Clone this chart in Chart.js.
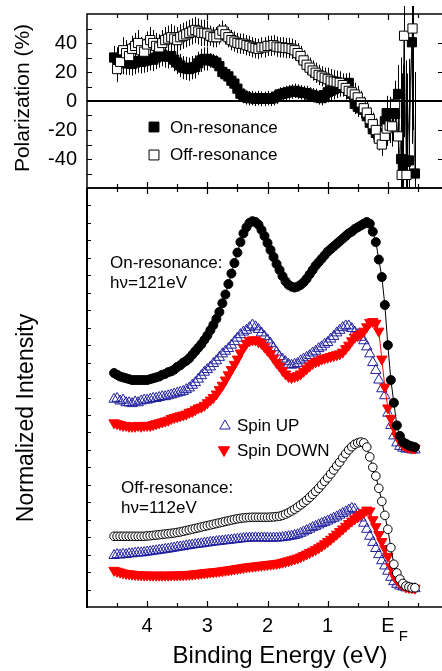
<!DOCTYPE html>
<html><head><meta charset="utf-8">
<script src="https://cdn.jsdelivr.net/npm/chart.js@4.4.1/dist/chart.umd.min.js"></script>
<style>
html,body{margin:0;padding:0;background:#fff;}
#wrap{position:relative;width:442px;height:671px;overflow:hidden;}
canvas{position:absolute;left:0;top:0;}
</style></head><body>
<div id="wrap"><canvas id="topc" width="442" height="671"></canvas><canvas id="botc" width="442" height="671"></canvas></div>
<script>
// ---------------- DATA ----------------
// binding-energy grid (eV) shared by the dense data
const energyGrid = [
 4.55,4.50,4.45,4.40,4.35,4.30,4.25,4.20,4.15,4.10,
 4.05,4.00,3.95,3.90,3.85,3.80,3.75,3.70,3.65,3.60,
 3.55,3.50,3.45,3.40,3.35,3.30,3.25,3.20,3.15,3.10,
 3.05,3.00,2.95,2.90,2.85,2.80,2.75,2.70,2.65,2.60,
 2.55,2.50,2.45,2.40,2.35,2.30,2.25,2.20,2.15,2.10,
 2.05,2.00,1.95,1.90,1.85,1.80,1.75,1.70,1.65,1.60,
 1.55,1.50,1.45,1.40,1.35,1.30,1.25,1.20,1.15,1.10,
 1.05,1.00,0.95,0.90,0.85,0.80,0.75,0.70,0.65,0.60,
 0.55,0.50,0.45,0.40,0.35,0.30,0.25,0.20,0.15,0.10,
 0.05,0.00,-0.05,-0.10,-0.15,-0.20,-0.25,-0.30,-0.35,-0.40,
 -0.45];

// Polarization (%) on the first 91 grid points
const polOnRes = [
 30,29,27,26.5,26,26,25.5,26.5,27.5,27,
 27.5,28,29,28.5,30,31,32,31,30.5,31,
 28.5,26.5,24.5,23,22.5,22,23,23.5,26,28,
 29,29,28,27.5,26.5,24,20,18.5,17,14,
 12,8.5,5,3.5,2.5,2,2,1.5,2,1.5,
 1.5,2,1.5,2,3,4.5,5,5.5,6,6.5,
 7,6.5,6,5.5,5.5,4.5,4,3.5,2.5,2,
 4,6,7,8,9,10,11,12,12.5,5,
 -2,-4,-5,-6,-10.5,-15,-19.5,-22,-25,-22,
 -14];
const polOffRes = [
 null,22,27,35,33,31,36,38,40,35,
 34,39,42,40,38,37,40,42,43,44,
 43,42,44,45,46,47,48,49,48,47,
 47,46.5,45,44,44,46,48.5,46,44,42,
 41,40,39.5,39.5,38.5,38,37,36.5,36,37,
 37,38,38,38.5,37.5,37,37,36.5,36.5,36,
 35,33,31,28,25,23,21,19.5,18,17,
 16,15,14,13.5,13,12.5,11,9,7,6,
 4.5,2.5,-1,-5,-8,-12.5,-16,-20,-26,-30,
 -24];
// scattered points near E_F
const polOnTailE   = [0.02,-0.03,-0.08,-0.12,-0.17,-0.22,-0.25,-0.30,-0.35,-0.40,-0.45];
const polOnTailV   = [-8.4,-9,-8.4,-9,4.9,-40,-45,-42,-41,40.5,-50];
const polOnTailErr = [12,12,12,12,20,70,70,70,70,70,70];
const polOffTailE   = [0.02,-0.03,-0.07,-0.12,-0.17,-0.23,-0.27,-0.31,-0.41];
const polOffTailV   = [-19,-17,-17.5,-2,-24.4,-51,45,-51,50];
const polOffTailErr = [12,12,14,16,20,70,70,70,70];
// error-bar half lengths per energy band [from, to, err]
const polOnErrBands  = [[4.6,2.95,8],[2.95,1.0,5],[1.0,0.0,7]];
const polOffErrBands = [[4.6,2.95,9],[2.95,1.0,7],[1.0,0.0,8]];

// Normalized intensity (arb. units), 101 grid points each
const onResTotal = [
 13.4,13.3,13.2,13.15,13.1,13.05,13.0,13.0,13.0,13.0,
 13.0,13.0,13.05,13.1,13.15,13.2,13.3,13.35,13.45,13.5,
 13.6,13.75,13.85,14.0,14.1,14.25,14.45,14.65,14.85,15.05,
 15.3,15.55,15.85,16.15,16.5,16.9,17.4,17.9,18.5,19.1,
 19.7,20.3,20.9,21.4,21.75,22.0,22.1,22.05,21.9,21.6,
 21.25,20.85,20.45,20.05,19.65,19.3,18.95,18.65,18.45,18.35,
 18.3,18.35,18.45,18.6,18.8,19.05,19.3,19.55,19.75,19.95,
 20.15,20.35,20.5,20.65,20.8,20.95,21.1,21.25,21.4,21.5,
 21.65,21.75,21.85,21.95,22.05,21.95,21.5,20.9,19.9,18.9,
 17.3,15.0,13.0,11.7,10.4,9.8,9.45,9.35,9.25,9.2,
 9.15];
const onResSpinUp = [
 11.9,11.95,11.8,11.85,11.7,11.7,11.65,11.75,11.7,11.8,
 11.85,11.85,11.9,11.95,11.95,12.0,12.05,12.05,12.1,12.15,
 12.2,12.25,12.3,12.35,12.45,12.55,12.7,12.85,13.05,13.25,
 13.45,13.6,13.75,13.95,14.1,14.3,14.5,14.65,14.8,15.0,
 15.2,15.4,15.6,15.75,15.85,16.0,16.15,16.05,15.9,15.7,
 15.5,15.3,15.1,14.85,14.6,14.35,14.2,14.05,13.9,13.85,
 13.9,13.95,14.1,14.2,14.3,14.4,14.55,14.65,14.8,14.9,
 15.05,15.15,15.35,15.5,15.7,15.85,16.0,16.1,16.1,15.95,
 15.75,15.6,15.45,15.25,14.9,14.5,14.0,13.55,13.0,12.5,
 12.1,11.1,10.4,9.8,9.4,9.2,9.1,9.05,9.05,9.0,
 9.0];
const onResSpinDown = [
 10.55,10.5,10.45,10.4,10.4,10.35,10.35,10.35,10.4,10.35,
 10.4,10.4,10.4,10.45,10.5,10.55,10.6,10.65,10.7,10.8,
 10.85,10.9,10.95,11.0,11.05,11.15,11.2,11.3,11.4,11.45,
 11.55,11.7,11.85,12.0,12.2,12.45,12.7,13.0,13.3,13.6,
 13.9,14.2,14.55,14.85,15.1,15.25,15.3,15.3,15.2,15.1,
 14.9,14.7,14.5,14.25,14.0,13.8,13.55,13.35,13.2,13.15,
 13.2,13.25,13.35,13.5,13.65,13.8,13.95,14.05,14.1,14.2,
 14.25,14.3,14.35,14.4,14.45,14.5,14.6,14.8,15.0,15.25,
 15.45,15.55,15.65,15.8,16.05,16.3,16.35,16.25,15.8,14.2,
 12.6,11.4,10.8,10.3,9.8,9.5,9.3,9.2,9.15,9.1,
 9.1];
const offResTotal = [
 4.05,4.05,4.05,4.05,4.05,4.05,4.05,4.05,4.05,4.05,
 4.05,4.07,4.08,4.1,4.12,4.14,4.16,4.18,4.2,4.22,
 4.24,4.27,4.3,4.34,4.38,4.42,4.46,4.5,4.54,4.58,
 4.62,4.66,4.7,4.74,4.78,4.82,4.86,4.9,4.94,4.98,
 5.02,5.05,5.08,5.1,5.12,5.13,5.14,5.14,5.14,5.14,
 5.14,5.14,5.15,5.16,5.18,5.2,5.25,5.32,5.4,5.5,
 5.6,5.72,5.85,5.98,6.12,6.28,6.45,6.62,6.8,7.0,
 7.2,7.4,7.62,7.85,8.08,8.3,8.55,8.78,9.0,9.18,
 9.32,9.4,9.45,9.4,9.16,8.6,8.0,7.5,6.8,6.05,
 5.25,4.45,3.4,2.45,1.95,1.6,1.35,1.2,1.15,1.1,
 1.1];
const offResSpinUp = [
 2.95,3.0,2.98,3.02,3.0,3.05,3.05,3.08,3.1,3.1,
 3.12,3.15,3.17,3.2,3.22,3.25,3.27,3.3,3.32,3.35,
 3.38,3.42,3.44,3.46,3.5,3.52,3.55,3.58,3.6,3.62,
 3.65,3.67,3.7,3.72,3.74,3.76,3.78,3.8,3.82,3.84,
 3.86,3.88,3.9,3.92,3.94,3.95,3.95,3.96,3.95,3.96,
 3.95,3.95,3.94,3.95,3.95,3.96,3.98,4.0,4.03,4.06,
 4.1,4.14,4.22,4.3,4.38,4.46,4.55,4.62,4.7,4.78,
 4.85,4.92,5.0,5.08,5.16,5.26,5.36,5.45,5.55,5.65,
 5.6,5.35,5.1,4.8,4.45,4.05,3.7,3.35,3.0,2.65,
 2.35,2.05,1.7,1.45,1.3,1.2,1.15,1.1,1.1,1.05,
 1.05];
const offResSpinDown = [
 2.1,2.05,2.0,1.95,1.92,1.9,1.88,1.86,1.85,1.84,
 1.83,1.83,1.82,1.82,1.82,1.82,1.82,1.82,1.82,1.83,
 1.83,1.83,1.84,1.85,1.86,1.87,1.88,1.9,1.92,1.94,
 1.96,1.98,2.0,2.01,2.03,2.05,2.07,2.1,2.12,2.15,
 2.18,2.2,2.23,2.26,2.29,2.31,2.33,2.35,2.37,2.39,
 2.41,2.43,2.45,2.47,2.49,2.52,2.56,2.6,2.65,2.7,
 2.75,2.8,2.87,2.95,3.03,3.12,3.2,3.29,3.39,3.5,
 3.62,3.75,3.88,4.02,4.17,4.32,4.47,4.62,4.78,4.92,
 5.05,5.17,5.3,5.42,5.55,5.5,5.0,4.6,4.15,3.75,
 3.35,2.9,2.3,1.8,1.55,1.37,1.25,1.15,1.12,1.1,
 1.08];

// ticks
const xTickValues = [4, 3, 2, 1, 0];
const xTickLabels = ['4', '3', '2', '1', 'E'];
const xTickMarks  = [4.5, 4, 3.5, 3, 2.5, 2, 1.5, 1, 0.5, 0, -0.5];
const polTickValues = [40, 20, 0, -20, -40];
const polTickLabels = ['40', '20', '0', '-20', '-40'];
const polTickMarks  = [50, 40, 30, 20, 10, 0, -10, -20, -30, -40, -50];
const intTickMarks  = [1,2,3,4,5,6,7,8,9,10,11,12,13,14,15,16,17,18,19,20,21,22,23];

// ---------------- BUILD ----------------
const FONT = "'Liberation Sans', Arial, Helvetica, sans-serif";
const BLUE = '#1f1f9e', RED = '#ff0000';
const gridXY = arr => arr.map((v, i) => ({x: energyGrid[i], y: v}));
const tailXY = (es, vs) => es.map((e, i) => ({x: e, y: vs[i]}));
const bandErr = (bands, e) => { for (const b of bands) if (e <= b[0] && e > b[1]) return b[2]; return bands[bands.length-1][2]; };

const polOnData  = gridXY(polOnRes).concat(tailXY(polOnTailE, polOnTailV));
const polOffData = gridXY(polOffRes).concat(tailXY(polOffTailE, polOffTailV));
const polOnErr  = polOnRes.map((v, i) => bandErr(polOnErrBands, energyGrid[i])).concat(polOnTailErr);
const polOffErr = polOffRes.map((v, i) => bandErr(polOffErrBands, energyGrid[i])).concat(polOffTailErr);

const X_MIN = -0.9, X_MAX = 5.0;

function fixWidth(w) { return s => { s.width = w; s.paddingTop = 0; s.paddingBottom = 0; s.paddingLeft = 0; s.paddingRight = 0; }; }
function fixHeight(h) { return s => { s.height = h; s.paddingLeft = 0; s.paddingRight = 0; s.paddingTop = 0; s.paddingBottom = 0; }; }

function drawMarker(ctx, style, x, y, r, rot, fill, stroke, bw) {
  ctx.save();
  ctx.fillStyle = fill; ctx.strokeStyle = stroke; ctx.lineWidth = bw;
  Chart.helpers.drawPoint(ctx, {pointStyle: style, rotation: rot, radius: r, borderWidth: bw}, x, y);
  ctx.restore();
}

function drawRotText(ctx, text, x, y, size) {
  ctx.save();
  ctx.translate(x, y); ctx.rotate(-Math.PI / 2);
  ctx.font = size + 'px ' + FONT; ctx.fillStyle = '#000';
  ctx.textAlign = 'center'; ctx.textBaseline = 'alphabetic';
  ctx.fillText(text, 0, 0);
  ctx.restore();
}
function drawText(ctx, text, x, y, size, align) {
  ctx.save();
  ctx.font = size + 'px ' + FONT; ctx.fillStyle = '#000';
  ctx.textAlign = align || 'left'; ctx.textBaseline = 'alphabetic';
  ctx.fillText(text, x, y);
  ctx.restore();
}

function drawXMarks(ctx, a, xs, top, bottom) {
  ctx.lineWidth = 1.2;
  ctx.beginPath();
  for (const v of xTickMarks) {
    const px = Math.round(xs.getPixelForValue(v)) + 0.5;
    const len = Number.isInteger(v) ? 6 : 4;
    if (top) { ctx.moveTo(px, a.top); ctx.lineTo(px, a.top + len); }
    if (bottom) { ctx.moveTo(px, a.bottom); ctx.lineTo(px, a.bottom - len); }
  }
  ctx.stroke();
}

// ---- top panel plugins ----
const errorBars = {
  id: 'errorBars',
  beforeDatasetsDraw(chart) {
    const {ctx, chartArea: a} = chart; const ys = chart.scales.y;
    ctx.save();
    ctx.beginPath(); ctx.rect(a.left, a.top - 8, a.right - a.left, a.bottom - a.top + 8); ctx.clip();
    ctx.strokeStyle = '#000'; ctx.lineWidth = 1;
    chart.data.datasets.forEach((ds, di) => {
      const meta = chart.getDatasetMeta(di);
      ctx.beginPath();
      meta.data.forEach((pt, i) => {
        const d = ds.data[i]; const e = ds.errors[i];
        if (d.y == null || e == null) return;
        const x = Math.round(pt.x) + 0.5;
        ctx.moveTo(x, ys.getPixelForValue(d.y + e));
        ctx.lineTo(x, ys.getPixelForValue(d.y - e));
      });
      ctx.stroke();
    });
    ctx.restore();
  }
};
const topDecor = {
  id: 'topDecor',
  afterDraw(chart) {
    const {ctx, chartArea: a} = chart; const xs = chart.scales.x, ys = chart.scales.y;
    ctx.save(); ctx.strokeStyle = '#000';
    // zero line
    ctx.lineWidth = 2;
    const y0 = ys.getPixelForValue(0);
    ctx.beginPath(); ctx.moveTo(a.left, y0); ctx.lineTo(a.right, y0); ctx.stroke();
    drawXMarks(ctx, a, xs, true, true);
    ctx.lineWidth = 1.2; ctx.beginPath();
    for (const v of polTickMarks) {
      const py = Math.round(ys.getPixelForValue(v)) + 0.5;
      ctx.moveTo(a.left, py); ctx.lineTo(a.left + 5, py);
      if (v % 20 === 0 && v !== 0) { ctx.moveTo(a.right, py); ctx.lineTo(a.right - 4, py); }
    }
    ctx.stroke();
    // frame
    ctx.lineWidth = 1.5;
    ctx.beginPath();
    ctx.moveTo(a.right + 2, a.top); ctx.lineTo(a.left, a.top); ctx.lineTo(a.left, a.bottom); ctx.lineTo(a.right + 2, a.bottom);
    ctx.stroke();
    ctx.restore();
    // axis title
    drawRotText(ctx, 'Polarization (%)', 29, 98, 21);
    // legend
    const ds = chart.data.datasets;
    drawMarker(ctx, 'rect', 154, 127, 7, 0, '#000', '#000', 1);
    drawText(ctx, ds[1].label, 170, 133, 17);
    drawMarker(ctx, 'rect', 154, 155, 7, 0, '#fff', '#000', 1);
    drawText(ctx, ds[0].label, 170, 160, 17);
  }
};

new Chart(document.getElementById('topc'), {
  type: 'scatter',
  data: { datasets: [
    { label: 'Off-resonance', data: polOffData, errors: polOffErr, showLine: true,
      borderColor: '#000', borderWidth: 0.8, pointStyle: 'rect', pointRadius: 6.5,
      pointBackgroundColor: '#fff', pointBorderColor: '#000', pointBorderWidth: 1 },
    { label: 'On-resonance', data: polOnData, errors: polOnErr, showLine: true,
      borderColor: '#000', borderWidth: 0.8, pointStyle: 'rect', pointRadius: 6.5,
      pointBackgroundColor: '#000', pointBorderColor: '#000', pointBorderWidth: 1 }
  ]},
  options: {
    responsive: false, animation: false, devicePixelRatio: 1, events: [],
    layout: { autoPadding: false, padding: { left: 0, right: 0, top: 14, bottom: 671 - 188 } },
    plugins: { legend: { display: false }, tooltip: { enabled: false } },
    scales: {
      x: { type: 'linear', reverse: true, min: X_MIN, max: X_MAX, display: false },
      y: { type: 'linear', min: -60, max: 60,
           afterBuildTicks: s => { s.ticks = polTickValues.map(v => ({value: v})); },
           afterFit: fixWidth(87),
           grid: { display: false, drawTicks: false }, border: { display: false },
           ticks: { color: '#000', padding: 10, font: { family: FONT, size: 20 },
                    callback: (v) => polTickLabels[polTickValues.indexOf(v)] } }
    }
  },
  plugins: [errorBars, topDecor]
});

// ---- bottom panel ----
const botDecor = {
  id: 'botDecor',
  afterDraw(chart) {
    const {ctx, chartArea: a} = chart; const xs = chart.scales.x, ys = chart.scales.y;
    ctx.save(); ctx.strokeStyle = '#000';
    drawXMarks(ctx, a, xs, true, true);
    ctx.lineWidth = 1.2; ctx.beginPath();
    for (const v of intTickMarks) {
      const py = Math.round(ys.getPixelForValue(v)) + 0.5;
      ctx.moveTo(a.left, py); ctx.lineTo(a.left + 4, py);
    }
    ctx.stroke();
    ctx.lineWidth = 1.5;
    ctx.beginPath(); ctx.moveTo(a.right + 2, a.top); ctx.lineTo(a.left, a.top); ctx.stroke();
    ctx.beginPath(); ctx.moveTo(a.left, a.bottom); ctx.lineTo(a.right + 2, a.bottom); ctx.stroke();
    ctx.lineWidth = 2;
    ctx.beginPath(); ctx.moveTo(a.left, a.top); ctx.lineTo(a.left, a.bottom + 1); ctx.stroke();
    ctx.restore();
    // subscript F of E_F
    drawText(ctx, 'F', xs.getPixelForValue(0) + 11, 641, 15);
    // titles
    drawText(ctx, 'Binding Energy (eV)', 280, 663, 24, 'center');
    drawRotText(ctx, 'Normalized Intensity', 33, 418, 23);
    // annotations
    drawText(ctx, 'On-resonance:', 110, 268, 17);
    drawText(ctx, 'h\u03BD=121eV', 110, 288, 17);
    drawText(ctx, 'Off-resonance:', 121, 493, 17);
    drawText(ctx, 'h\u03BD=112eV', 121, 513, 17);
    // legend
    const ds = chart.data.datasets;
    drawMarker(ctx, 'triangle', 225, 426, 6, 0, 'rgba(0,0,0,0)', BLUE, 1);
    drawText(ctx, ds[5].label, 237, 431, 17);
    drawMarker(ctx, 'triangle', 224, 450, 6.5, 180, RED, RED, 1);
    drawText(ctx, ds[3].label, 237, 456, 17);
  }
};

new Chart(document.getElementById('botc'), {
  type: 'scatter',
  data: { datasets: [
    { label: 'On-resonance total', data: gridXY(onResTotal), showLine: true, borderColor: '#000', borderWidth: 1,
      pointStyle: 'circle', pointRadius: 4.5, pointBackgroundColor: '#000', pointBorderColor: '#000', pointBorderWidth: 1 },
    { label: 'Off-resonance total', data: gridXY(offResTotal), showLine: true, borderColor: '#000', borderWidth: 1,
      pointStyle: 'circle', pointRadius: 4.3, pointBackgroundColor: '#fff', pointBorderColor: '#000', pointBorderWidth: 1 },
    { label: 'Spin DOWN (off)', data: gridXY(offResSpinDown), showLine: true, borderColor: RED, borderWidth: 1,
      pointStyle: 'triangle', pointRotation: 180, pointRadius: 6, pointBackgroundColor: RED, pointBorderColor: RED, pointBorderWidth: 1 },
    { label: 'Spin DOWN', data: gridXY(onResSpinDown), showLine: true, borderColor: RED, borderWidth: 1,
      pointStyle: 'triangle', pointRotation: 180, pointRadius: 6, pointBackgroundColor: RED, pointBorderColor: RED, pointBorderWidth: 1 },
    { label: 'Spin UP (off)', data: gridXY(offResSpinUp), showLine: false,
      pointStyle: 'triangle', pointRadius: 6, pointBackgroundColor: 'rgba(0,0,0,0)', pointBorderColor: BLUE, pointBorderWidth: 1 },
    { label: 'Spin UP', data: gridXY(onResSpinUp), showLine: false,
      pointStyle: 'triangle', pointRadius: 6, pointBackgroundColor: 'rgba(0,0,0,0)', pointBorderColor: BLUE, pointBorderWidth: 1 }
  ]},
  options: {
    responsive: false, animation: false, devicePixelRatio: 1, events: [],
    layout: { autoPadding: false, padding: { left: 0, right: 0, top: 188, bottom: 0 } },
    plugins: { legend: { display: false }, tooltip: { enabled: false } },
    scales: {
      x: { type: 'linear', reverse: true, min: X_MIN, max: X_MAX,
           afterBuildTicks: s => { s.ticks = xTickValues.map(v => ({value: v})); },
           afterFit: fixHeight(64),
           grid: { display: false, drawTicks: false }, border: { display: false },
           ticks: { color: '#000', padding: 7, maxRotation: 0, autoSkip: false, font: { family: FONT, size: 20 },
                    callback: (v) => xTickLabels[xTickValues.indexOf(v)] } },
      y: { type: 'linear', min: 0, max: 24, afterFit: fixWidth(87),
           grid: { display: false, drawTicks: false }, border: { display: false },
           ticks: { display: false } }
    }
  },
  plugins: [botDecor]
});
</script>
</body></html>
